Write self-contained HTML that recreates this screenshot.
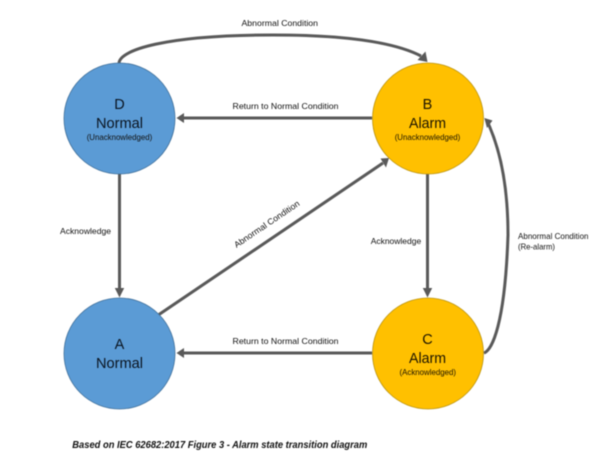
<!DOCTYPE html>
<html>
<head>
<meta charset="utf-8">
<style>
html,body{margin:0;padding:0;background:#fff;}
svg{display:block;filter:blur(0.4px);}
text{font-family:"Liberation Sans",sans-serif;fill:#111;}
.s{font-size:8.5px;}
.m{font-size:14.5px;text-anchor:middle;fill:#0a1420;}
.y{fill:#1c1400;}
</style>
</head>
<body>
<svg width="602" height="462" viewBox="0 0 602 462" xmlns="http://www.w3.org/2000/svg">
<rect width="602" height="462" fill="#fff"/>
<g fill="none" stroke="#595959" stroke-width="3">
<path d="M119 63 C120 50 165 35 273 35 C340 35 392 41 421 56"/>
<path d="M372 118H182"/>
<path d="M119.500 174V289"/>
<path d="M159 314.500L383 163"/>
<path d="M372 353H182"/>
<path d="M427.500 174V289"/>
<path d="M484 353 C492 350 505 325 508 235 C508 180 498 145 488 123"/>
</g>
<g fill="#595959">
<polygon points="427.500,62 417.500,60 425.500,51.500"/>
<polygon points="176.500,118 184,113 184,123"/>
<polygon points="119.500,297.500 114.800,288 124.200,288"/>
<polygon points="389,158 380.500,158.500 386,167.500"/>
<polygon points="176.500,353 184,348 184,358"/>
<polygon points="427.500,297.500 422.800,288 432.200,288"/>
<polygon points="484.300,118 492.500,120.500 487,128"/>
</g>
<circle cx="119.500" cy="118.500" r="55.500" fill="#5B9BD5" stroke="#41719C" stroke-width="0.8"/>
<circle cx="119.500" cy="353.500" r="55.500" fill="#5B9BD5" stroke="#41719C" stroke-width="0.8"/>
<circle cx="428" cy="118.500" r="55.500" fill="#FFC000" stroke="#BC9410" stroke-width="0.8"/>
<circle cx="428" cy="353.500" r="55.500" fill="#FFC000" stroke="#BC9410" stroke-width="0.8"/>

<text class="m" x="119.500" y="109">D</text>
<text class="m" x="119.500" y="128" textLength="47" lengthAdjust="spacingAndGlyphs">Normal</text>
<text class="s" x="86.700" y="140" textLength="65.500" lengthAdjust="spacingAndGlyphs">(Unacknowledged)</text>

<text class="m" x="119.500" y="349">A</text>
<text class="m" x="119.500" y="368" textLength="47" lengthAdjust="spacingAndGlyphs">Normal</text>

<text class="m y" x="427.500" y="109">B</text>
<text class="m y" x="427.500" y="128" textLength="37" lengthAdjust="spacingAndGlyphs">Alarm</text>
<text class="s y" x="394.700" y="140" textLength="65.500" lengthAdjust="spacingAndGlyphs">(Unacknowledged)</text>

<text class="m y" x="427.500" y="344">C</text>
<text class="m y" x="427.500" y="363" textLength="37" lengthAdjust="spacingAndGlyphs">Alarm</text>
<text class="s y" x="399.500" y="375" textLength="56.500" lengthAdjust="spacingAndGlyphs">(Acknowledged)</text>

<text class="s" x="241.500" y="26" textLength="76.500" lengthAdjust="spacingAndGlyphs">Abnormal Condition</text>
<text class="s" x="232.500" y="109" textLength="106" lengthAdjust="spacingAndGlyphs">Return to Normal Condition</text>
<text class="s" x="232.500" y="344" textLength="106" lengthAdjust="spacingAndGlyphs">Return to Normal Condition</text>
<text class="s" x="60" y="234" textLength="51" lengthAdjust="spacingAndGlyphs">Acknowledge</text>
<text class="s" x="370.700" y="244" textLength="50.500" lengthAdjust="spacingAndGlyphs">Acknowledge</text>
<text class="s" x="518" y="239" textLength="70.500" lengthAdjust="spacingAndGlyphs">Abnormal Condition</text>
<text class="s" x="518" y="249.500" textLength="37" lengthAdjust="spacingAndGlyphs">(Re-alarm)</text>
<text class="s" transform="translate(236.500 248) rotate(-34)" x="0" y="0" textLength="77" lengthAdjust="spacingAndGlyphs">Abnormal Condition</text>

<text x="72.300" y="448" font-size="10.500" font-weight="bold" font-style="italic" textLength="295" lengthAdjust="spacingAndGlyphs">Based on IEC 62682:2017 Figure 3 - Alarm state transition diagram</text>
</svg>
</body>
</html>
